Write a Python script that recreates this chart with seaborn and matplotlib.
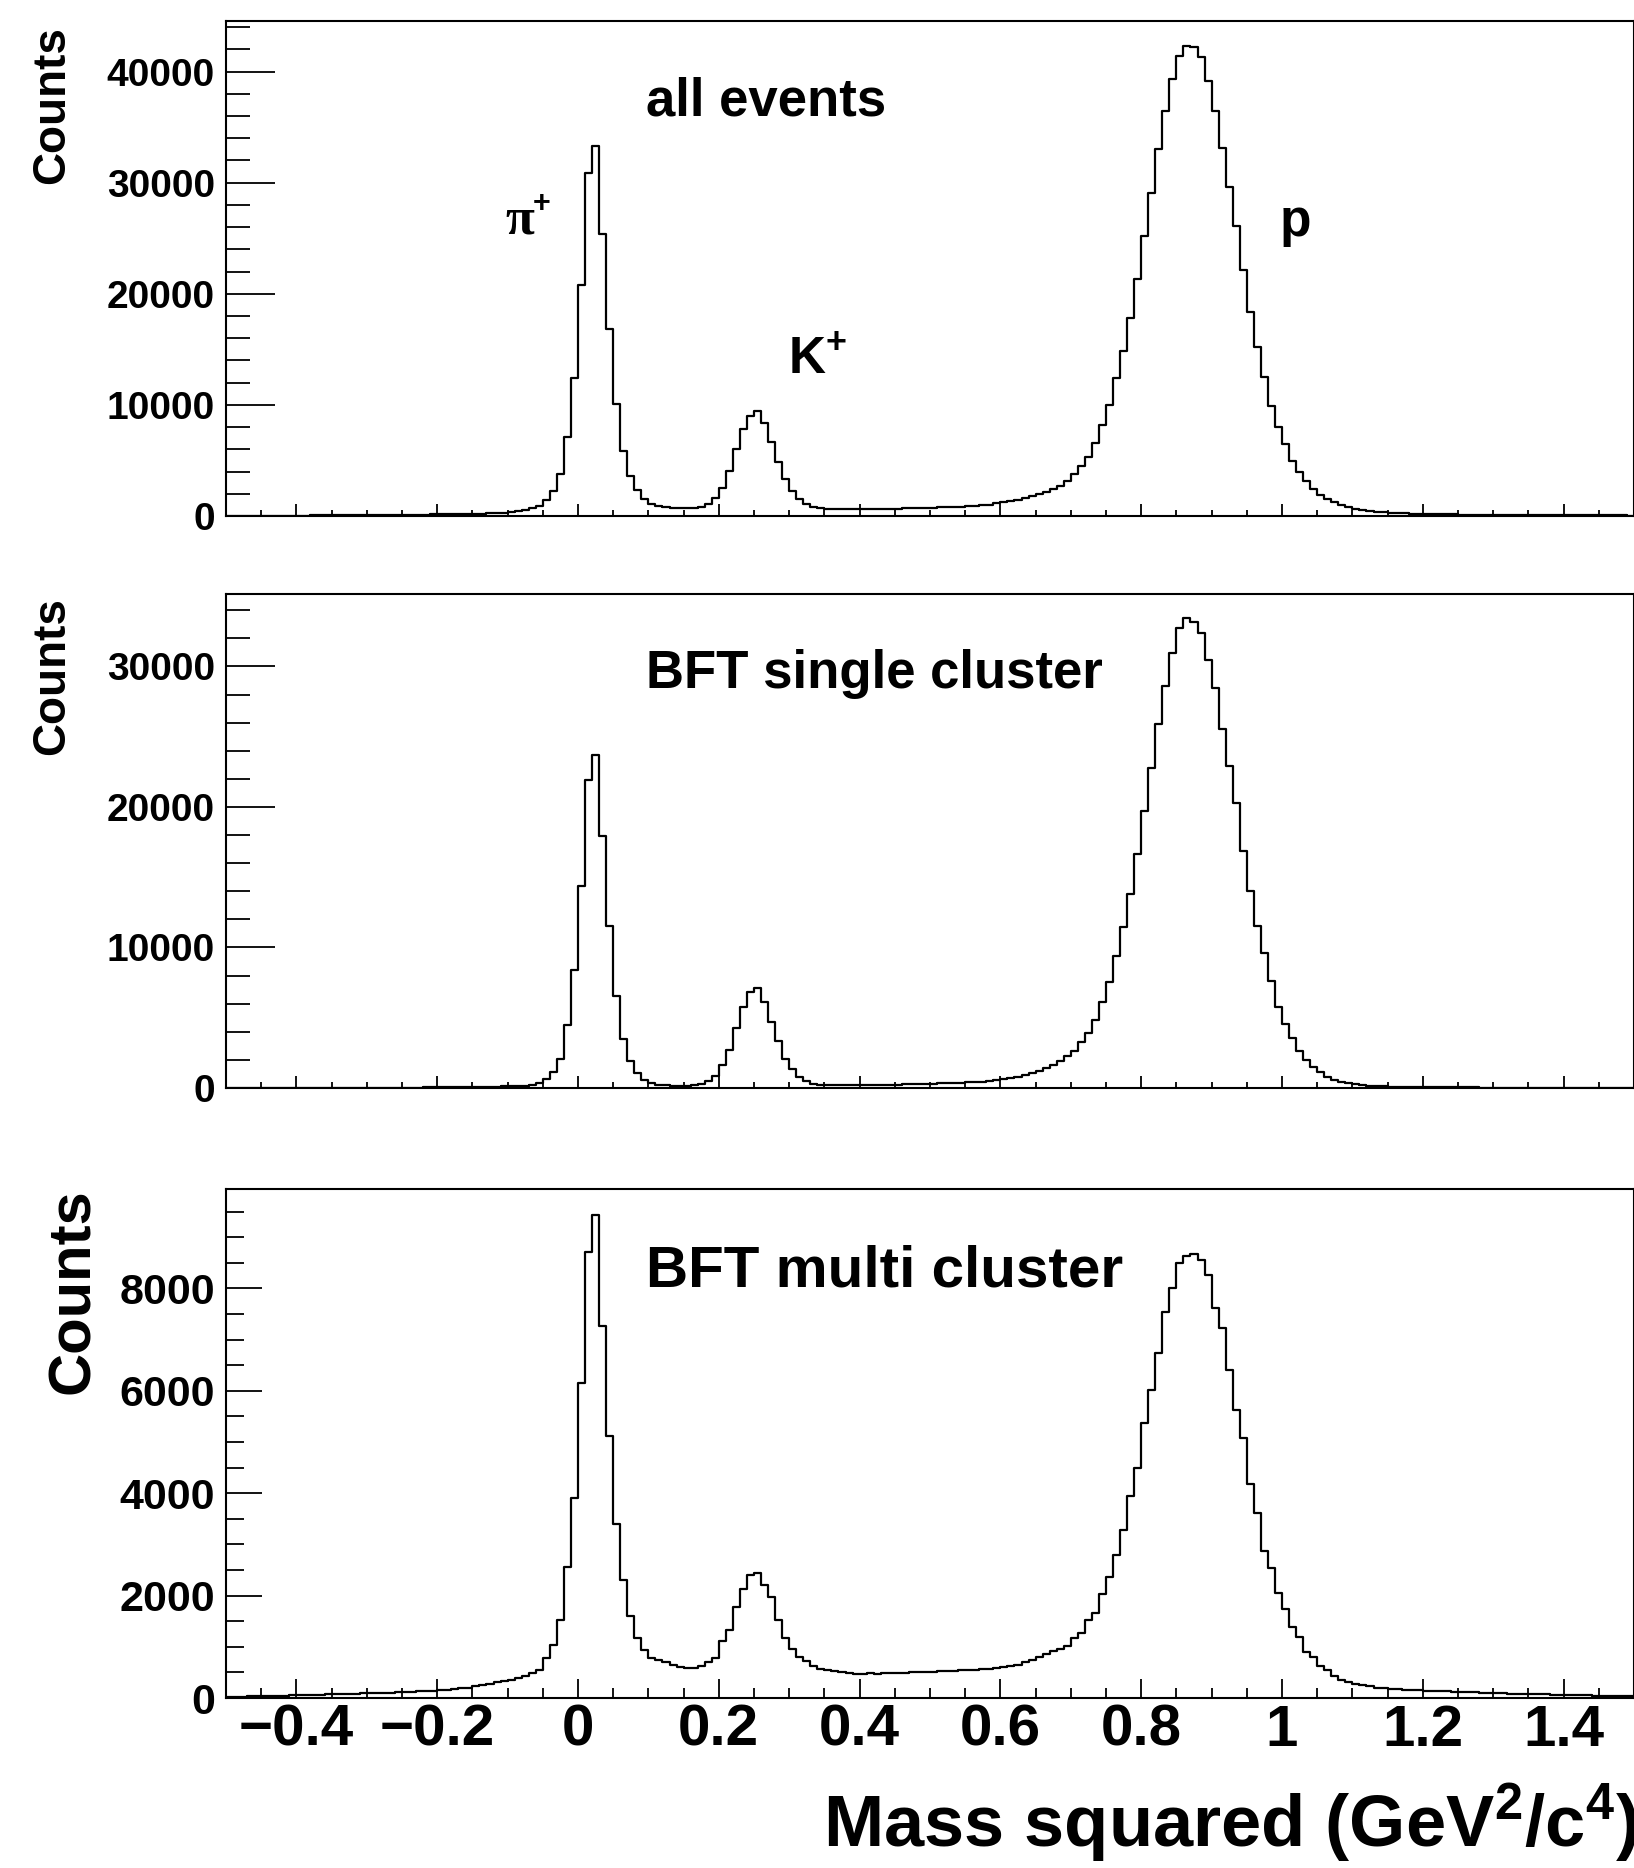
import numpy as np
import pandas as pd
import matplotlib
matplotlib.use("Agg")
import matplotlib.pyplot as plt
import seaborn as sns
from matplotlib.ticker import MultipleLocator, FuncFormatter

# ---------------- data (bin width 0.01 GeV^2/c^4, from -0.5 to 1.5) ----------------
bin_width = 0.01
bin_range = (-0.5, 1.5)

counts_all = [
    20, 20, 25, 25, 30, 30, 35, 35, 40, 40,
    45, 45, 50, 50, 55, 60, 60, 65, 70, 75,
    80, 85, 90, 95, 100, 110, 115, 120, 130, 140,
    150, 160, 170, 180, 190, 200, 215, 235, 260, 295,
    330, 420, 540, 690, 900, 1410, 2250, 3750, 7110, 12450,
    20760, 30840, 33300, 25350, 16800, 10050, 5850, 3600, 2310, 1500,
    1110, 900, 780, 720, 690, 690, 720, 840, 1110, 1650,
    2550, 4050, 6000, 7800, 9000, 9450, 8400, 6700, 4900, 3300,
    2250, 1500, 1050, 810, 690, 630, 600, 590, 590, 600,
    620, 630, 640, 650, 660, 670, 680, 700, 710, 730,
    750, 770, 790, 820, 850, 880, 920, 970, 1030, 1140,
    1260, 1350, 1470, 1620, 1800, 1980, 2190, 2430, 2730, 3180,
    3780, 4530, 5340, 6540, 8190, 10020, 12390, 14880, 17820, 21330,
    25230, 29040, 33030, 36480, 39330, 41430, 42330, 42180, 41280, 39180,
    36480, 33090, 29580, 26070, 22140, 18330, 15240, 12480, 9930, 7980,
    6480, 4980, 3930, 3120, 2430, 1920, 1530, 1230, 990, 780,
    630, 540, 450, 390, 340, 300, 270, 240, 220, 200,
    185, 170, 160, 150, 140, 130, 125, 120, 115, 110,
    105, 100, 95, 90, 85, 80, 78, 75, 72, 70,
    68, 65, 62, 60, 58, 55, 52, 50, 48, 45,
]

counts_single = [
    5, 5, 5, 5, 5, 10, 10, 10, 10, 10,
    10, 10, 15, 15, 15, 15, 20, 20, 20, 20,
    25, 25, 25, 30, 30, 30, 35, 35, 40, 40,
    45, 45, 50, 55, 60, 65, 70, 80, 95, 110,
    130, 150, 170, 240, 380, 660, 1140, 2090, 4460, 8420,
    14370, 21890, 23670, 17930, 11530, 6550, 3510, 1920, 1070, 590,
    360, 240, 190, 160, 150, 150, 190, 310, 500, 830,
    1610, 2680, 4290, 5760, 6850, 7100, 6120, 4700, 3340, 2090,
    1380, 780, 470, 310, 240, 200, 190, 180, 180, 185,
    200, 205, 210, 220, 230, 240, 250, 265, 280, 295,
    310, 325, 340, 360, 380, 400, 425, 455, 500, 550,
    620, 710, 810, 950, 1090, 1230, 1400, 1640, 1950, 2250,
    2660, 3250, 3890, 4840, 6100, 7520, 9420, 11430, 13800, 16650,
    19690, 22750, 25900, 28580, 30950, 32730, 33450, 33200, 32380, 30480,
    28460, 25550, 22890, 20280, 16840, 13990, 11550, 9580, 7640, 5790,
    4550, 3560, 2660, 1990, 1520, 1110, 810, 590, 450, 330,
    260, 210, 170, 140, 120, 100, 90, 80, 70, 60,
    55, 50, 48, 45, 42, 40, 38, 36, 34, 32,
    30, 28, 26, 25, 24, 22, 20, 19, 18, 17,
    16, 15, 14, 13, 12, 12, 11, 10, 10, 10,
]

counts_multi = [
    20, 25, 25, 30, 30, 35, 40, 40, 45, 50,
    55, 60, 60, 65, 70, 70, 75, 80, 85, 90,
    95, 100, 100, 105, 110, 115, 120, 130, 135, 145,
    150, 160, 175, 190, 200, 230, 260, 270, 310, 340,
    360, 390, 430, 480, 540, 780, 1040, 1530, 2560, 3910,
    6150, 8710, 9440, 7270, 5110, 3400, 2300, 1610, 1170, 930,
    780, 740, 700, 650, 605, 590, 590, 630, 700, 780,
    1110, 1330, 1770, 2130, 2410, 2440, 2210, 1970, 1530, 1170,
    960, 810, 720, 620, 570, 540, 520, 500, 490, 470,
    470, 480, 470, 480, 490, 480, 490, 500, 500, 510,
    510, 520, 520, 530, 540, 540, 550, 560, 570, 590,
    605, 620, 650, 700, 750, 810, 850, 910, 960, 1010,
    1170, 1270, 1530, 1660, 2040, 2360, 2800, 3290, 3940, 4490,
    5370, 6010, 6740, 7530, 8010, 8500, 8640, 8680, 8550, 8270,
    7620, 7230, 6400, 5620, 5080, 4170, 3610, 2880, 2540, 2050,
    1740, 1390, 1190, 890, 800, 620, 540, 420, 360, 310,
    280, 250, 230, 200, 190, 180, 170, 160, 155, 150,
    145, 140, 135, 130, 125, 120, 115, 110, 105, 100,
    95, 90, 85, 80, 78, 75, 72, 70, 65, 60,
    58, 55, 52, 50, 48, 45, 42, 40, 38, 35,
]

panel_titles = ["all events", "BFT single cluster", "BFT multi cluster"]
y_limits = [44555, 35160, 9941]
y_major = [10000, 10000, 2000]
y_minor = [2000, 2000, 500]
x_label = "Mass squared (GeV$^{2}$/c$^{4}$)"
y_label = "Counts"

# ---------------- style ----------------
sns.set_theme(style="ticks")
plt.rcParams["font.family"] = ["Liberation Sans", "DejaVu Sans"]
plt.rcParams["font.weight"] = "bold"
plt.rcParams["mathtext.fontset"] = "custom"
plt.rcParams["mathtext.rm"] = "Liberation Sans:bold"
plt.rcParams["mathtext.bf"] = "Liberation Sans:bold"
plt.rcParams["mathtext.it"] = "Liberation Sans:bold"
plt.rcParams["axes.unicode_minus"] = True
for key in ["text.color", "axes.labelcolor", "xtick.color", "ytick.color", "axes.edgecolor"]:
    plt.rcParams[key] = "black"

fig = plt.figure(figsize=(16.34, 18.68), dpi=100)
W, H = 1634.0, 1868.0
left = 226 / W
width = 1408 / W
# (top_px, bottom_px) of each panel
panel_px = [(21, 516), (594, 1088), (1189, 1698)]

n_bins = len(counts_all)
centers = np.round(bin_range[0] + bin_width * (np.arange(n_bins) + 0.5), 4)
data_sets = [counts_all, counts_single, counts_multi]


def root_fmt(v, pos):
    s = "%g" % round(v, 6)
    return s.replace("-", "\u2212")


axes = []
for k, (top_px, bot_px) in enumerate(panel_px):
    ax = fig.add_axes([left, 1 - bot_px / H, width, (bot_px - top_px) / H])
    axes.append(ax)
    df = pd.DataFrame({"mass2": centers, "counts": np.asarray(data_sets[k], dtype=float)})
    sns.histplot(data=df, x="mass2", weights="counts", binwidth=bin_width,
                 binrange=bin_range, element="step",
                 fill=False, color="black", linewidth=1.6, ax=ax)
    ax.set_xlim(-0.5, 1.5)
    ax.set_ylim(0, y_limits[k])
    ax.xaxis.set_major_locator(MultipleLocator(0.2))
    ax.xaxis.set_minor_locator(MultipleLocator(0.05))
    ax.xaxis.set_major_formatter(FuncFormatter(root_fmt))
    ax.yaxis.set_major_locator(MultipleLocator(y_major[k]))
    ax.yaxis.set_minor_locator(MultipleLocator(y_minor[k]))
    for sp in ax.spines.values():
        sp.set_visible(True)
        sp.set_linewidth(1.5)
        sp.set_color("black")
    bottom_panel = (k == 2)
    ax.tick_params(axis="y", which="major", direction="in",
                   length=(26 if bottom_panel else 35), width=1.3,
                   labelsize=(31 if bottom_panel else 28), pad=8, left=True, right=False)
    ax.tick_params(axis="y", which="minor", direction="in",
                   length=(13 if bottom_panel else 17), width=1.3, left=True, right=False)
    ax.tick_params(axis="x", which="major", direction="in",
                   length=(14 if bottom_panel else 9), width=1.3,
                   labelsize=42, pad=4, bottom=True, top=False,
                   labelbottom=bottom_panel)
    ax.tick_params(axis="x", which="minor", direction="in",
                   length=(7 if bottom_panel else 4.5), width=1.3, bottom=True, top=False)
    for lab in ax.get_yticklabels() + ax.get_xticklabels():
        lab.set_fontweight("bold")
    ax.set_xlabel("")
    ax.set_ylabel(y_label, fontsize=(43 if bottom_panel else 33), fontweight="bold",
                  va="center")
    ax.grid(False)

axes[0].yaxis.set_label_coords(-0.1236, 0.830)
axes[1].yaxis.set_label_coords(-0.1232, 0.834)
axes[2].yaxis.set_label_coords(-0.108, 0.7996)

# x label (bottom panel)
axes[2].set_xlabel(x_label, fontsize=52, fontweight="bold", ha="left", va="baseline")
axes[2].xaxis.set_label_coords(0.4240, -0.2908)

# panel titles
axes[0].text(0.097, 36040, panel_titles[0], fontsize=38, fontweight="bold", va="baseline")
axes[1].text(0.097, 28440, panel_titles[1], fontsize=38, fontweight="bold", va="baseline")
axes[2].text(0.097, 8041, panel_titles[2], fontsize=42, fontweight="bold", va="baseline")

# particle labels
axes[0].text(-0.103, 25440, "\u03c0", fontsize=38, family="Liberation Serif",
             fontweight="bold", va="baseline")
axes[0].text(-0.064, 27400, "+", fontsize=22, fontweight="bold", va="baseline")
axes[0].text(0.298, 12780, r"K$^{+}$", fontsize=37, fontweight="bold", va="baseline")
axes[0].text(0.997, 25220, "p", fontsize=37, fontweight="bold", va="baseline")

fig.savefig("out.png", dpi=100)
